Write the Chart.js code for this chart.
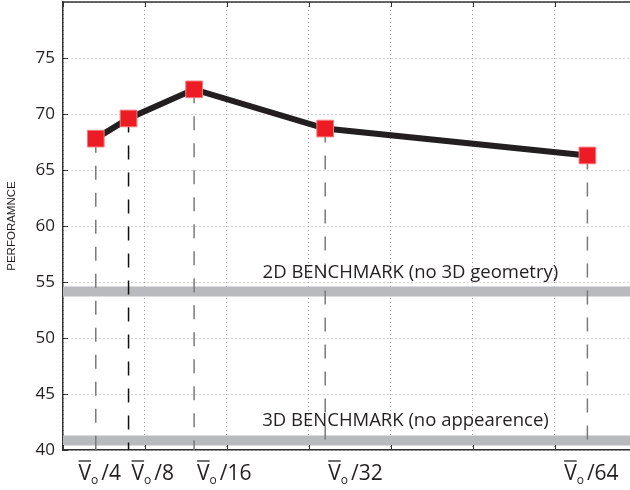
<!DOCTYPE html>
<html>
<head>
<meta charset="utf-8">
<script src="https://cdn.jsdelivr.net/npm/chart.js@4"></script>
<style>
    html, body { margin: 0; padding: 0; background: #fff; }
    #wrap { width: 630px; height: 490px; }
</style>
</head>
<body>
<div id="wrap"><canvas id="perf_chart" width="630" height="490"></canvas></div>
<script>
// divisor of V_o for each run, and the measured performance
const divisors = [4, 8, 16, 32, 64];
const performance = [67.8, 69.6, 72.2, 68.7, 66.3];
const tickLabels = ["/4", "/8", "/16", "/32", "/64"];

// benchmark levels drawn as grey bands
const benchmarkValues = [54.15, 40.85];
const benchmarkLabels = ["2D BENCHMARK (no 3D geometry)", "3D BENCHMARK (no appearence)"];

const yTicks = [40, 45, 50, 55, 60, 65, 70, 75];
const xGrid = [0, 10, 20, 30, 40, 50, 60];

const X_MAX = 69.2;
const Y_MIN = 40, Y_MAX = 80;
const FONT = "'Open Sans', 'Noto Sans', sans-serif";

// bands behind everything
let datasets = [];
benchmarkValues.forEach(v => {
    datasets.push({
        data: [{ x: 0, y: v }, { x: X_MAX, y: v }],
        borderColor: "#b9babd",
        borderWidth: 10,
        pointRadius: 0,
        order: 3
    });
});

// dashed drop lines from each point to the axis
divisors.forEach((d, i) => {
    datasets.push({
        data: [{ x: d, y: performance[i] }, { x: d, y: Y_MIN }],
        borderColor: i === 1 ? "#111" : "#7a7a7a",
        borderWidth: 1.5,
        borderDash: [14, 13],
        pointRadius: 0,
        order: 2
    });
});

// main series
datasets.push({
    data: divisors.map((d, i) => ({ x: d, y: performance[i] })),
    borderColor: "#231f20",
    borderWidth: 6,
    pointStyle: "rect",
    pointRadius: 11.8,
    pointBackgroundColor: "#ed1c24",
    pointBorderColor: "#f47b7f",
    pointBorderWidth: 1,
    order: 0
});

const extras = {
    id: "extras",
    afterDatasetsDraw(chart) {
        const ctx = chart.ctx;
        const area = chart.chartArea;
        const xs = chart.scales.x;
        const ys = chart.scales.y;

        ctx.save();
        // top frame line
        ctx.strokeStyle = "#333";
        ctx.lineWidth = 1.5;
        ctx.beginPath();
        ctx.moveTo(area.left, area.top);
        ctx.lineTo(area.right, area.top);
        ctx.stroke();

        // small inward tick marks
        ctx.lineWidth = 1;
        xGrid.forEach(v => {
            const px = Math.round(xs.getPixelForValue(v)) + 0.5;
            ctx.beginPath();
            ctx.moveTo(px, area.top);
            ctx.lineTo(px, area.top + 5);
            ctx.moveTo(px, area.bottom);
            ctx.lineTo(px, area.bottom - 5);
            ctx.stroke();
        });
        yTicks.forEach(v => {
            const py = Math.round(ys.getPixelForValue(v)) + 0.5;
            ctx.beginPath();
            ctx.moveTo(area.left, py);
            ctx.lineTo(area.left + 5, py);
            ctx.stroke();
        });

        // benchmark captions
        ctx.fillStyle = "#231f20";
        ctx.font = "18.5px " + FONT;
        ctx.textAlign = "center";
        ctx.textBaseline = "alphabetic";
        const captionX = [42.4, 41.8];
        benchmarkValues.forEach((v, i) => {
            ctx.fillText(benchmarkLabels[i], xs.getPixelForValue(captionX[i]), ys.getPixelForValue(v) - 14);
        });

        // x labels: V with overline, subscript o, then the divisor
        const base = area.bottom + 30;
        ctx.strokeStyle = "#231f20";
        divisors.forEach((d, i) => {
            ctx.font = "21px " + FONT;
            const vW = ctx.measureText("V").width;
            const restW = ctx.measureText(tickLabels[i]).width;
            ctx.font = "12px " + FONT;
            const oW = ctx.measureText("o").width;
            const total = vW + oW + 3 + restW;
            const px = xs.getPixelForValue(d);
            let left = (i === 0 || i === divisors.length - 1) ? px - total / 2 + 4 : px + 3;

            ctx.textAlign = "left";
            ctx.font = "21px " + FONT;
            ctx.fillText("V", left, base);
            ctx.lineWidth = 1.3;
            ctx.beginPath();
            ctx.moveTo(left, base - 19);
            ctx.lineTo(left + vW, base - 19);
            ctx.stroke();
            ctx.font = "12px " + FONT;
            ctx.fillText("o", left + vW, base + 4);
            ctx.font = "21px " + FONT;
            ctx.fillText(tickLabels[i], left + vW + oW + 3, base);
        });
        ctx.restore();
    }
};

new Chart("perf_chart", {
    type: "line",
    data: { datasets: datasets },
    plugins: [extras],
    options: {
        responsive: false,
        animation: false,
        layout: { autoPadding: false, padding: { top: 2, bottom: 40, left: 0, right: 0 } },
        plugins: {
            legend: { display: false },
            tooltip: { enabled: false }
        },
        scales: {
            x: {
                type: "linear",
                min: 0,
                max: X_MAX,
                ticks: { display: false, stepSize: 10 },
                afterBuildTicks: (scale) => {
                    scale.ticks = xGrid.map(v => ({ value: v }));
                },
                grid: { color: "#aaa", drawTicks: false, lineWidth: 1 },
                border: { color: "#333", width: 1.5, dash: [1, 3] }
            },
            y: {
                min: Y_MIN,
                max: Y_MAX,
                afterBuildTicks: (scale) => {
                    scale.ticks = yTicks.concat([Y_MAX]).map(v => ({ value: v }));
                },
                afterFit: (scale) => {
                    scale.width = 63;
                    // the hidden top label should not push the plot down
                    scale.paddingTop = 0;
                    scale.paddingBottom = 0;
                },
                ticks: {
                    padding: 8,
                    color: "#231f20",
                    font: { family: FONT, size: 17 },
                    callback: (v) => v === Y_MAX ? "" : v
                },
                grid: { color: "#aaa", drawTicks: false, lineWidth: 1 },
                border: { color: "#333", width: 1.5, dash: [1, 3] },
                title: {
                    display: true,
                    text: "PERFORAMNCE",
                    color: "#231f20",
                    font: { family: "'Liberation Sans', Arial, sans-serif", size: 11.5 },
                    padding: { top: 5, bottom: 0 }
                }
            }
        }
    }
});
</script>
</body>
</html>
